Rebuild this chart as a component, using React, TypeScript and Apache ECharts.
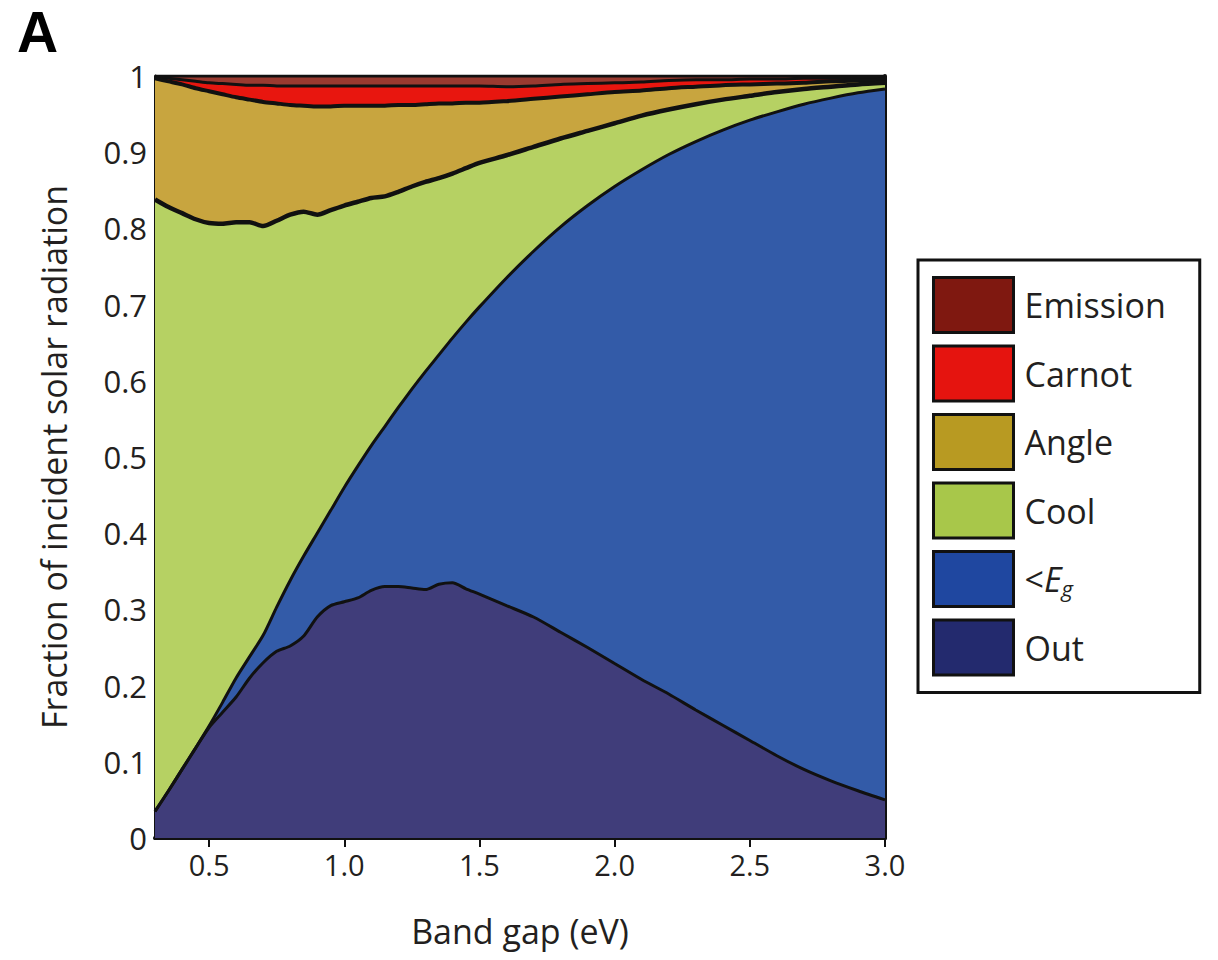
import { useEffect, useRef } from "react";
import * as echarts from "echarts";

// Band gap (eV) sample positions
const xValues = [
  0.3, 0.35, 0.4, 0.45, 0.5, 0.55, 0.6, 0.65, 0.7, 0.75, 0.8, 0.85, 0.9, 0.95,
  1.0, 1.05, 1.1, 1.15, 1.2, 1.25, 1.3, 1.35, 1.4, 1.45, 1.5, 1.6, 1.7, 1.8,
  1.9, 2.0, 2.1, 2.2, 2.3, 2.4, 2.5, 2.6, 2.7, 2.8, 2.9, 3.0,
];

// Upper boundary (cumulative fraction) of each band
const outTop = [
  0.035, 0.062, 0.09, 0.118, 0.145, 0.165, 0.185, 0.21, 0.23, 0.245, 0.252,
  0.265, 0.29, 0.305, 0.31, 0.315, 0.325, 0.33, 0.33, 0.328, 0.326, 0.333,
  0.335, 0.327, 0.32, 0.305, 0.29, 0.27, 0.25, 0.229, 0.208, 0.189, 0.168,
  0.148, 0.128, 0.108, 0.09, 0.075, 0.062, 0.05,
];
const belowGapTop = [
  0.035, 0.062, 0.09, 0.118, 0.147, 0.178, 0.21, 0.238, 0.266, 0.303, 0.338,
  0.37, 0.4, 0.43, 0.46, 0.488, 0.515, 0.54, 0.565, 0.589, 0.612, 0.634,
  0.656, 0.677, 0.697, 0.735, 0.77, 0.802, 0.83, 0.855, 0.877, 0.897, 0.914,
  0.929, 0.942, 0.953, 0.963, 0.971, 0.978, 0.983,
];
const coolTop = [
  0.838, 0.828, 0.82, 0.812, 0.807, 0.806, 0.808, 0.808, 0.803, 0.81, 0.818,
  0.822, 0.818, 0.824, 0.83, 0.835, 0.84, 0.842, 0.848, 0.855, 0.861, 0.866,
  0.872, 0.879, 0.886, 0.896, 0.907, 0.918, 0.928, 0.938, 0.948, 0.956, 0.963,
  0.969, 0.974, 0.979, 0.983, 0.986, 0.989, 0.991,
];
const angleTop = [
  0.997, 0.993, 0.989, 0.984, 0.98, 0.976, 0.972, 0.969, 0.966, 0.964, 0.962,
  0.961, 0.96, 0.96, 0.961, 0.961, 0.961, 0.961, 0.962, 0.962, 0.963, 0.964,
  0.964, 0.965, 0.965, 0.967, 0.97, 0.973, 0.976, 0.979, 0.981, 0.984, 0.986,
  0.988, 0.989, 0.99, 0.991, 0.993, 0.994, 0.995,
];
const carnotTop = [
  0.999, 0.997, 0.995, 0.993, 0.991, 0.99, 0.989, 0.988, 0.988, 0.987, 0.987,
  0.987, 0.987, 0.987, 0.987, 0.987, 0.987, 0.987, 0.987, 0.987, 0.987, 0.987,
  0.987, 0.987, 0.987, 0.986, 0.987, 0.989, 0.99, 0.991, 0.992, 0.994, 0.995,
  0.995, 0.996, 0.996, 0.997, 0.997, 0.998, 0.998,
];
const emissionTop = [
  1, 1, 1, 1, 1, 1, 1, 1, 1, 1, 1, 1, 1, 1, 1, 1, 1, 1, 1, 1, 1, 1, 1, 1, 1, 1,
  1, 1, 1, 1, 1, 1, 1, 1, 1, 1, 1, 1, 1, 1,
];

const seriesNames = ["Emission", "Carnot", "Angle", "Cool", "<Eg", "Out"];
const areaColors = ["#9a3a30", "#e8160f", "#c8a53f", "#b6d163", "#335ba8", "#403d7a"];
const legendColors = ["#7f1810", "#e5140f", "#b89a22", "#a8c74a", "#1f47a0", "#232a6e"];

const xTickValues = [0.5, 1.0, 1.5, 2.0, 2.5, 3.0];
const xTickLabels = ["0.5", "1.0", "1.5", "2.0", "2.5", "3.0"];
const yTickLabels = ["0", "0.1", "0.2", "0.3", "0.4", "0.5", "0.6", "0.7", "0.8", "0.9", "1"];

export default function App() {
  const ref = useRef<HTMLDivElement>(null);
  useEffect(() => {
    const chart = echarts.init(ref.current!, null, { renderer: "svg" });
    const boundaries = [emissionTop, carnotTop, angleTop, coolTop, belowGapTop, outTop];
    const lineWidths = [3, 3, 4, 4.5, 3, 3];
    const font = "Open Sans";
    const textColor = "#231f20";
    const frame = { lineStyle: { color: "#111", width: 3 } };

    const series = seriesNames.map((name, i) => ({
      name,
      type: "line",
      data: xValues.map((x, j) => [x, boundaries[i][j]]),
      symbol: "none",
      smooth: 0.25,
      lineStyle: { color: "#111", width: lineWidths[i] },
      areaStyle: { color: areaColors[i], opacity: 1 },
      itemStyle: { color: areaColors[i] },
      xAxisIndex: 0,
      yAxisIndex: 0,
    }));

    chart.setOption({
      animation: false,
      backgroundColor: "#fff",
      title: {
        text: "A",
        left: 17,
        top: 3,
        padding: 0,
        textStyle: { fontSize: 57, fontWeight: "bold", fontFamily: "Liberation Sans", color: "#000", lineHeight: 57 },
      },
      grid: { left: 155, right: 333, top: 76, bottom: 122 },
      xAxis: [
        {
          type: "value",
          position: "bottom",
          min: 0.3,
          max: 3.0,
          name: "Band gap (eV)",
          nameLocation: "middle",
          nameGap: 76,
          nameTextStyle: { fontFamily: font, fontSize: 34, color: textColor },
          axisLine: { show: true, ...frame },
          axisTick: { show: true, inside: true, length: 9, customValues: xTickValues, lineStyle: { color: "#111", width: 2 } },
          axisLabel: {
            customValues: xTickValues,
            margin: 12,
            fontFamily: font,
            fontSize: 29,
            color: textColor,
            formatter: (v: number) => xTickLabels[xTickValues.findIndex((t) => Math.abs(t - v) < 1e-6)] ?? "",
          },
          splitLine: { show: false },
        },
        {
          type: "value",
          position: "top",
          min: 0.3,
          max: 3.0,
          axisLine: { show: true, lineStyle: { color: "#111", width: 4 } },
          axisTick: { show: true, inside: true, length: 9, customValues: xTickValues, lineStyle: { color: "#111", width: 2 } },
          axisLabel: { show: false },
          splitLine: { show: false },
        },
      ],
      yAxis: [
        {
          type: "value",
          position: "left",
          min: 0,
          max: 1,
          interval: 0.1,
          name: "Fraction of incident solar radiation",
          nameLocation: "middle",
          nameGap: 84,
          nameTextStyle: { fontFamily: font, fontSize: 34, color: textColor },
          axisLine: { show: true, ...frame },
          axisTick: { show: true, inside: true, length: 11, lineStyle: { color: "#111", width: 3 } },
          axisLabel: {
            margin: 8,
            fontFamily: font,
            fontSize: 31,
            color: textColor,
            formatter: (v: number) => yTickLabels[Math.round(v * 10)] ?? "",
          },
          splitLine: { show: false },
        },
        {
          type: "value",
          position: "right",
          min: 0,
          max: 1,
          interval: 0.1,
          axisLine: { show: true, lineStyle: { color: "#111", width: 4 } },
          axisTick: { show: true, inside: true, length: 11, lineStyle: { color: "#111", width: 3 } },
          axisLabel: { show: false },
          splitLine: { show: false },
        },
      ],
      legend: {
        orient: "vertical",
        left: 918,
        top: 260,
        icon: "rect",
        itemWidth: 80,
        itemHeight: 55,
        itemGap: 10.5,
        selectedMode: false,
        backgroundColor: "#fff",
        borderColor: "#111",
        borderWidth: 3,
        borderRadius: 0,
        padding: [16, 34, 16, 14],
        textStyle: {
          fontFamily: font,
          fontSize: 34,
          color: textColor,
          padding: [0, 0, 0, 6],
          rich: {
            t: { fontFamily: font, fontSize: 34, color: textColor, lineHeight: 40 },
            i: { fontFamily: font, fontSize: 34, fontStyle: "italic", color: textColor, lineHeight: 40 },
            s: { fontFamily: font, fontSize: 22, fontStyle: "italic", color: textColor, lineHeight: 14, verticalAlign: "bottom" },
          },
        },
        formatter: (name: string) => (name === "<Eg" ? "{t|<}{i|E}{s|g}" : name),
        data: seriesNames.map((n, i) => ({
          name: n,
          itemStyle: { color: legendColors[i], borderColor: "#111", borderWidth: 3 },
        })),
      },
      series,
    });
    return () => chart.dispose();
  }, []);
  return <div ref={ref} style={{ position: "absolute", left: 0, top: 0, width: 1218, height: 960 }} />;
}
